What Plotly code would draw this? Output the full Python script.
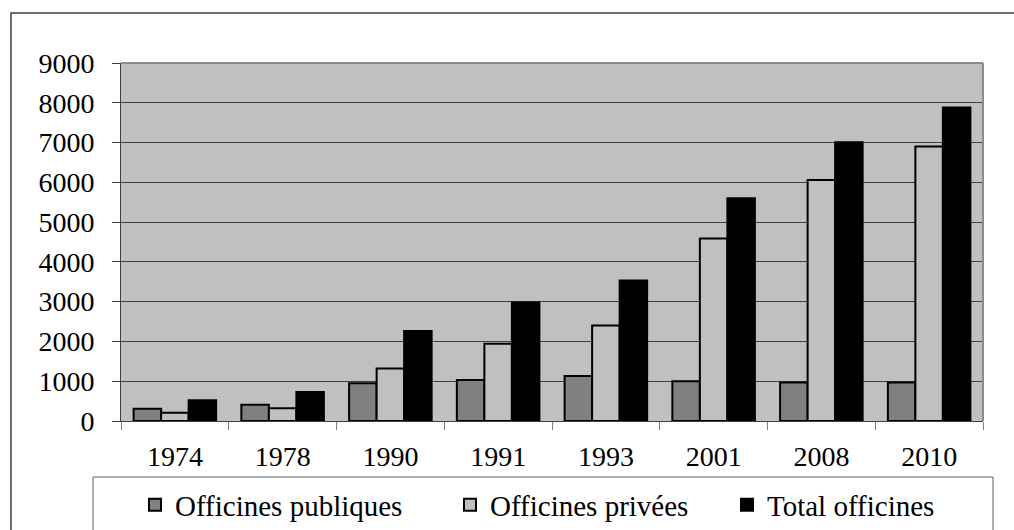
import plotly.graph_objects as go

# Pharmacy counts by year
years = ["1974", "1978", "1990", "1991", "1993", "2001", "2008", "2010"]
publiques = [310, 410, 950, 1030, 1130, 1000, 970, 970]
privees = [210, 320, 1320, 1940, 2400, 4590, 6060, 6900]
total = [520, 730, 2260, 2980, 3530, 5600, 7010, 7880]

y_ticks = list(range(0, 9001, 1000))

W, H = 1014, 530
ML, MR, MT, MB = 121, 31, 63, 109
PW, PH = W - ML - MR, H - MT - MB


def px_x(px):
    return (px - ML) / PW


def px_y(py):
    return (H - MB - py) / PH


FONT = "Liberation Serif, Times New Roman, serif"

fig = go.Figure()
series = [
    ("Officines publiques", publiques, "#808080", "legend"),
    ("Officines privées", privees, "#c0c0c0", "legend2"),
    ("Total officines", total, "#000000", "legend3"),
]
for name, vals, color, leg in series:
    fig.add_trace(go.Bar(
        x=years, y=vals, name=name, legend=leg,
        marker=dict(color=color, line=dict(color="#000000", width=2)),
    ))

legend_common = dict(
    orientation="h", yanchor="middle", xanchor="left",
    bgcolor="rgba(0,0,0,0)", borderwidth=0,
    font=dict(family=FONT, size=29, color="#000000"),
)
legend_y = px_y(505)

fig.update_layout(
    width=W, height=H,
    margin=dict(l=ML, r=MR, t=MT, b=MB, pad=0, autoexpand=False),
    paper_bgcolor="#ffffff",
    plot_bgcolor="#c0c0c0",
    barmode="group", bargap=0.234, bargroupgap=0,
    font=dict(family=FONT, size=28, color="#000000"),
    showlegend=True,
    legend=dict(x=px_x(135), y=legend_y, **legend_common),
    legend2=dict(x=px_x(450), y=legend_y, **legend_common),
    legend3=dict(x=px_x(727), y=legend_y, **legend_common),
    xaxis=dict(
        type="category", tickson="boundaries", ticks="outside", ticklen=8,
        tickcolor="#808080", tickwidth=1, showgrid=False,
        showline=True, linecolor="#404040", linewidth=1,
        ticklabelstandoff=10, automargin=False,
        tickfont=dict(family=FONT, size=28, color="#000000"),
    ),
    yaxis=dict(
        range=[0, 9000], tickvals=y_ticks, ticktext=[str(v) for v in y_ticks],
        ticks="outside", ticklen=8, tickcolor="#404040", tickwidth=1,
        showgrid=True, gridcolor="#404040", gridwidth=1,
        showline=True, linecolor="#404040", linewidth=1,
        zeroline=False, ticklabelstandoff=12, automargin=False,
        tickfont=dict(family=FONT, size=28, color="#000000"),
    ),
    shapes=[
        # plot-area frame, top and right edges
        dict(type="line", xref="paper", yref="paper", x0=0, x1=1, y0=1, y1=1,
             line=dict(color="#8c8c8c", width=2)),
        dict(type="line", xref="paper", yref="paper", x0=1, x1=1, y0=0, y1=1,
             line=dict(color="#8c8c8c", width=2)),
        # legend box
        dict(type="rect", xref="paper", yref="paper",
             x0=px_x(93), x1=px_x(993), y0=px_y(477), y1=px_y(545),
             line=dict(color="#606060", width=1), fillcolor="rgba(0,0,0,0)"),
        # outer chart border
        dict(type="rect", xref="paper", yref="paper",
             x0=px_x(11), x1=px_x(1030), y0=px_y(13), y1=px_y(560),
             line=dict(color="#404040", width=1.5), fillcolor="rgba(0,0,0,0)"),
    ],
)

fig.write_html("out.html")
